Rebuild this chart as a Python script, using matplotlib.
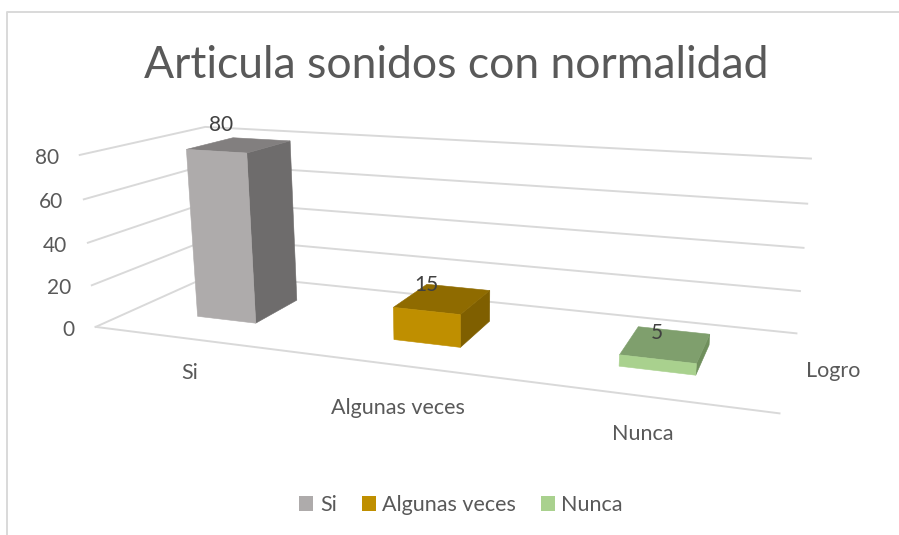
import numpy as np
import matplotlib
matplotlib.use("Agg")
import matplotlib.pyplot as plt
from matplotlib.patches import Patch, Polygon

# ---- data ----
categories = ["Si", "Algunas veces", "Nunca"]
values = [80, 15, 5]
value_ticks = [0, 20, 40, 60, 80]
depth_label = "Logro"
title = "Articula sonidos con normalidad"

# ---- style ----
front_colors = ["#AEABAB", "#BF8F00", "#A9D18E"]
side_colors = ["#6E6C6C", "#7F5F00", "#6F8F5C"]
top_colors = ["#827F7F", "#8F6B00", "#7F9F6D"]
grid_color = "#D9D9D9"
text_color = "#595959"
label_color = "#404040"
bar_width = 0.31
depth_front, depth_back = 0.30, 0.70
value_label_offsets = [(-19, -20), (-16, -14), (-9, -11)]
category_label_offsets = [(0, 34), (-2, 43), (0, 38)]

plt.rcParams["font.family"] = ["Lato", "DejaVu Sans"]

# Camera calibration: the plot box corners (u, v, z) as seen on the canvas
box = [(0, 0, 0, 95, 327), (3, 0, 0, 780, 412), (0, 1, 0, 215, 273), (3, 1, 0, 796, 335),
       (0, 0, 80, 80, 156), (0, 1, 80, 205, 126.5), (3, 1, 80, 811, 158)]
A = []
for u, v, z, px, py in box:
    A.append([u, v, z, 1, 0, 0, 0, 0, -px*u, -px*v, -px*z, -px])
    A.append([0, 0, 0, 0, u, v, z, 1, -py*u, -py*v, -py*z, -py])
cam = np.linalg.svd(np.array(A, float))[2][-1].reshape(3, 4)


def project(u, v, z):
    p = cam @ np.array([u, v, z, 1.0])
    return p[0] / p[2], p[1] / p[2]


fig = plt.figure(figsize=(8.99, 5.35), dpi=100)
ax = fig.add_axes([0, 0, 1, 1])
ax.set_xlim(0, 899)
ax.set_ylim(535, 0)
ax.axis("off")

# chart frame
ax.plot([6.5, 6.5, 899], [535, 12, 12], color=grid_color, lw=1.4, zorder=1)

# gridlines
n = len(categories)
for t in value_ticks:
    pts = [project(0, 0, t), project(0, 1, t), project(n, 1, t)]
    ax.plot(*zip(*pts), color=grid_color, lw=1.4, zorder=2, solid_joinstyle="miter")
    x0, y0 = pts[0]
    ax.text(x0 - 21, y0 + 3, str(t), ha="right", va="center", fontsize=15, color=text_color)
ax.plot(*zip(project(0, 0, 0), project(n, 0, 0)), color=grid_color, lw=1.4, zorder=2)

# bars
for i, (val, fc, sc, tc) in enumerate(zip(values, front_colors, side_colors, top_colors)):
    u0, u1 = i + 0.5 - bar_width / 2, i + 0.5 + bar_width / 2
    v0, v1 = depth_front, depth_back
    faces = [
        ([(u1, v0, 0), (u1, v1, 0), (u1, v1, val), (u1, v0, val)], sc),
        ([(u0, v0, val), (u1, v0, val), (u1, v1, val), (u0, v1, val)], tc),
        ([(u0, v0, 0), (u1, v0, 0), (u1, v0, val), (u0, v0, val)], fc),
    ]
    for corners, color in faces:
        ax.add_patch(Polygon([project(*c) for c in corners], closed=True, facecolor=color,
                             edgecolor=color, lw=0.4, zorder=3 + i))
    lx, ly = project(i + 0.5, (v0 + v1) / 2, val)
    dx, dy = value_label_offsets[i]
    ax.text(lx + dx, ly + dy, str(val), ha="center", va="center", fontsize=15,
            color=label_color, zorder=10)

# category labels
for i, (cat, off) in enumerate(zip(categories, category_label_offsets)):
    x, y = project(i + 0.5, 0, 0)
    ax.text(x + off[0], y + off[1], cat, ha="center", va="center", fontsize=15.5, color=text_color)

ax.text(833, 371, depth_label, ha="center", va="center", fontsize=15.5, color=text_color)
ax.text(456.5, 66, title, ha="center", va="center", fontsize=32, color=text_color)

handles = [Patch(facecolor=c, edgecolor="none", label=l) for c, l in zip(front_colors, categories)]
leg = fig.legend(handles=handles, loc="center", bbox_to_anchor=(461 / 899, 1 - 505 / 535), ncol=3,
                 frameon=False, fontsize=15.5, handlelength=0.65, handleheight=0.65,
                 handletextpad=0.3, columnspacing=1.15, labelcolor=text_color)

fig.savefig("out.png", dpi=100)
